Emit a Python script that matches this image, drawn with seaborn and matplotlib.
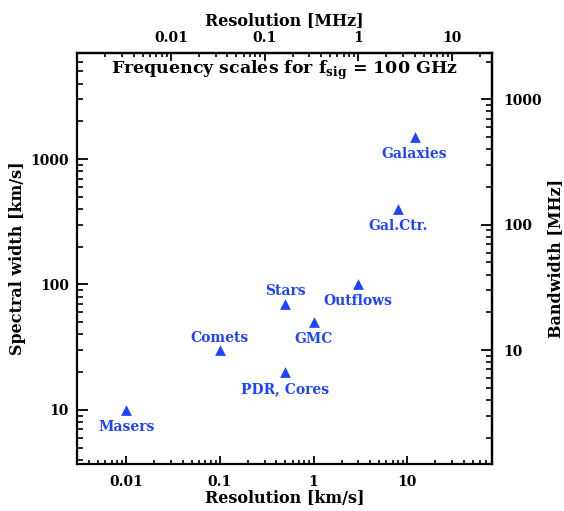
import numpy as np
import pandas as pd
import matplotlib
matplotlib.use("Agg")
import matplotlib.pyplot as plt
import matplotlib.ticker as mticker
import seaborn as sns

# source data (km/s)
names = ["Masers", "Comets", "PDR, Cores", "Stars", "GMC", "Outflows", "Gal.Ctr.", "Galaxies"]
resolution = [0.01, 0.1, 0.5, 0.5, 1.0, 3.0, 8.0, 12.0]
width = [10, 30, 20, 70, 50, 100, 400, 1500]
label_above = [False, True, False, True, False, False, False, False]

# 100 GHz: 1 km/s -> MHz
f_sig = 100e9
kms_to_mhz = f_sig / 2.99792458e5 / 1e6

x_ticks = [0.01, 0.1, 1, 10]
x_ticklabels = ["0.01", "0.1", "1", "10"]
y_ticks = [10, 100, 1000]
y_ticklabels = ["10", "100", "1000"]

df = pd.DataFrame({"name": names, "res": resolution, "width": width})

sns.set_style("ticks")
plt.rcParams["font.family"] = ["DejaVu Serif"]
plt.rcParams["font.weight"] = "bold"
plt.rcParams["mathtext.fontset"] = "custom"
plt.rcParams["mathtext.rm"] = "DejaVu Serif:bold"
plt.rcParams["mathtext.bf"] = "DejaVu Serif:bold"
for k in ["text.color", "axes.labelcolor", "xtick.color", "ytick.color", "axes.edgecolor"]:
    plt.rcParams[k] = "black"

blue = "#1f44ff"

fig = plt.figure(figsize=(5.64, 5.11), dpi=100)
ax = fig.add_axes([0.137, 0.092, 0.735, 0.804])

sns.scatterplot(data=df, x="res", y="width", marker="^", s=60, color=blue,
                edgecolor=blue, linewidth=0, ax=ax, legend=False)

ax.set_xscale("log")
ax.set_yscale("log")
ax.set_xlim(0.003, 80)
ax.set_ylim(3.7, 7000)

for n, xv, yv, up in zip(names, resolution, width, label_above):
    off = (0, 9) if up else (0, -12)
    ax.annotate(n, (xv, yv), xytext=off, textcoords="offset points",
                ha="center", va="center", color=blue, fontsize=10, fontweight="bold")

ax.text(0.5, 0.957, r"Frequency scales for f$_{\rm sig}$ = 100 GHz", transform=ax.transAxes,
        ha="center", va="center", fontsize=12.5, fontweight="bold")

def fwd(v):
    return v * kms_to_mhz

def inv(v):
    return v / kms_to_mhz

ax.set_xticks(x_ticks)
ax.set_xticklabels(x_ticklabels)
ax.set_yticks(y_ticks)
ax.set_yticklabels(y_ticklabels)
ax.xaxis.set_minor_locator(mticker.LogLocator(base=10, subs=np.arange(2, 10)))
ax.yaxis.set_minor_locator(mticker.LogLocator(base=10, subs=np.arange(2, 10)))
ax.xaxis.set_minor_formatter(mticker.NullFormatter())
ax.yaxis.set_minor_formatter(mticker.NullFormatter())

ax.set_xlabel("Resolution [km/s]", fontsize=11.5, fontweight="bold", labelpad=1)
ax.set_ylabel("Spectral width [km/s]", fontsize=11.5, fontweight="bold", labelpad=3)

ax.tick_params(axis="x", which="major", direction="in", length=6, width=1.3, pad=8, labelsize=10)
ax.tick_params(axis="x", which="minor", direction="in", length=3, width=1.2)
ax.tick_params(axis="y", which="major", direction="in", length=8, width=1.3, pad=6, labelsize=10)
ax.tick_params(axis="y", which="minor", direction="in", length=4.5, width=1.2)
for sp in ax.spines.values():
    sp.set_visible(True)
    sp.set_linewidth(1.6)
    sp.set_color("black")

secx = ax.secondary_xaxis("top", functions=(fwd, inv))
secx.set_xticks(x_ticks)
secx.set_xticklabels(x_ticklabels)
secx.xaxis.set_minor_locator(mticker.LogLocator(base=10, subs=np.arange(2, 10)))
secx.xaxis.set_minor_formatter(mticker.NullFormatter())
secx.tick_params(axis="x", which="major", direction="in", length=6, width=1.3, pad=6, labelsize=10)
secx.tick_params(axis="x", which="minor", direction="in", length=3, width=1.2)
secx.set_xlabel("Resolution [MHz]", fontsize=11.5, fontweight="bold", labelpad=4)
secx.spines["top"].set_linewidth(1.6)

secy = ax.secondary_yaxis("right", functions=(fwd, inv))
secy.set_yticks(y_ticks)
secy.set_yticklabels(y_ticklabels)
secy.yaxis.set_minor_locator(mticker.LogLocator(base=10, subs=np.arange(2, 10)))
secy.yaxis.set_minor_formatter(mticker.NullFormatter())
secy.tick_params(axis="y", which="major", direction="in", length=8, width=1.3, pad=8, labelsize=10)
secy.tick_params(axis="y", which="minor", direction="in", length=4.5, width=1.2)
secy.set_ylabel("Bandwidth [MHz]", fontsize=11.5, fontweight="bold", labelpad=4)
secy.spines["right"].set_linewidth(1.6)

fig.savefig("out.png", dpi=100)
